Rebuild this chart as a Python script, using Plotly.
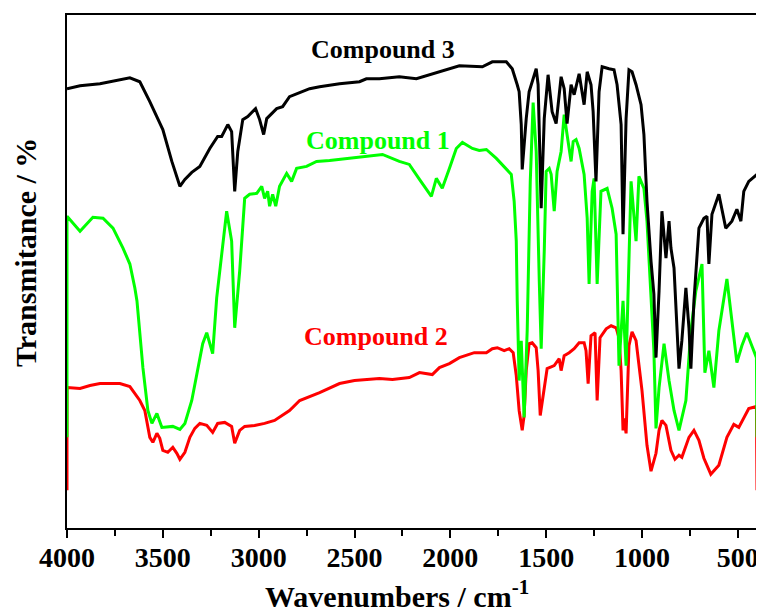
import plotly.graph_objects as go

# ---- Data ----
# Compound 3 (black)
wn_c3 = [4000, 3932, 3828, 3672, 3620, 3568, 3500, 3453, 3411, 3385,
         3349, 3307, 3255, 3214, 3193, 3161, 3141, 3125, 3109, 3083,
         3057, 3016, 2995, 2974, 2958, 2906, 2875, 2839, 2786, 2734,
         2682, 2615, 2578, 2474, 2438, 2370, 2266, 2177, 2094, 1953,
         1833, 1781, 1708, 1677, 1651, 1641, 1630, 1625, 1604, 1589,
         1552, 1542, 1526, 1510, 1490, 1469, 1448, 1422, 1406, 1391,
         1370, 1354, 1328, 1302, 1286, 1266, 1255, 1240, 1224, 1208,
         1172, 1146, 1130, 1109, 1099, 1083, 1068, 1052, 1031, 1005,
         990, 974, 953, 938, 927, 911, 896, 875, 859, 849,
         833, 807, 792, 771, 755, 745, 729, 719, 703, 677,
         661, 651, 635, 599, 563, 531, 505, 484, 469, 443,
         400]
t_c3 = [88.2, 88.8, 89.2, 90.4, 89.6, 85.6, 80.0, 73.6, 68.6, 70.0,
        71.4, 72.6, 76.2, 78.6, 78.6, 81.0, 79.6, 67.6, 75.6, 82.0,
        82.6, 84.2, 82.0, 79.0, 82.2, 84.2, 84.6, 86.6, 87.4, 88.2,
        88.6, 89.0, 89.2, 89.6, 90.2, 90.2, 90.6, 90.2, 91.2, 92.8,
        92.6, 93.6, 93.6, 92.2, 89.0, 87.6, 81.0, 72.0, 82.2, 87.6,
        92.2, 89.0, 64.2, 82.2, 91.0, 83.6, 81.2, 90.6, 88.2, 81.2,
        89.0, 87.0, 91.2, 85.0, 91.6, 89.0, 83.6, 69.6, 87.6, 92.6,
        92.2, 92.0, 89.0, 81.0, 59.0, 82.2, 92.0, 91.6, 89.0, 85.0,
        79.0, 65.6, 53.6, 47.0, 34.2, 47.6, 63.6, 54.2, 61.6, 56.2,
        52.2, 32.0, 37.6, 48.2, 40.2, 32.0, 45.6, 52.2, 60.2, 62.2,
        62.6, 53.0, 63.0, 67.0, 60.2, 61.6, 64.0, 61.6, 67.6, 69.6,
        71.0]

# Compound 1 (green)
wn_c1 = [4000, 4000, 3932, 3865, 3812, 3760, 3708, 3672, 3646, 3635,
         3604, 3578, 3557, 3531, 3505, 3448, 3411, 3385, 3349, 3318,
         3292, 3271, 3240, 3219, 3167, 3141, 3125, 3099, 3073, 3047,
         3010, 2984, 2969, 2953, 2943, 2927, 2911, 2891, 2854, 2828,
         2802, 2750, 2698, 2630, 2578, 2438, 2354, 2266, 2214, 2161,
         2099, 2073, 2042, 2005, 1969, 1937, 1885, 1849, 1812, 1760,
         1708, 1682, 1667, 1656, 1651, 1641, 1630, 1615, 1599, 1583,
         1568, 1552, 1536, 1526, 1510, 1500, 1484, 1474, 1458, 1443,
         1422, 1406, 1391, 1370, 1359, 1344, 1328, 1302, 1286, 1276,
         1260, 1250, 1234, 1214, 1182, 1156, 1135, 1120, 1099, 1083,
         1057, 1031, 1016, 990, 974, 953, 938, 927, 911, 885,
         859, 833, 807, 771, 745, 719, 687, 672, 651, 625,
         599, 557, 531, 505, 479, 453, 427, 403, 400]
t_c1 = [18.2, 62.6, 59.6, 62.4, 62.2, 60.2, 56.2, 53.0, 48.2, 45.6,
        32.2, 23.6, 21.0, 23.0, 20.2, 20.4, 19.8, 21.0, 25.6, 32.2,
        37.0, 39.2, 35.0, 46.2, 63.6, 57.6, 40.2, 51.6, 66.2, 67.0,
        67.2, 68.6, 66.2, 67.6, 64.6, 67.0, 64.6, 68.6, 71.2, 69.6,
        72.2, 72.6, 73.6, 73.8, 74.0, 74.6, 75.0, 73.6, 73.0, 70.0,
        66.6, 70.2, 68.2, 72.2, 76.2, 77.4, 76.2, 75.8, 76.0, 74.2,
        72.2, 71.0, 65.6, 57.6, 45.6, 29.6, 37.6, 22.2, 39.6, 69.6,
        85.4, 75.6, 49.6, 36.0, 55.6, 71.6, 72.2, 71.0, 63.6, 71.6,
        75.6, 83.0, 79.0, 73.6, 77.6, 78.0, 76.2, 71.0, 62.2, 49.0,
        67.6, 70.2, 49.0, 67.6, 68.2, 64.2, 59.0, 32.6, 45.6, 32.6,
        69.6, 57.6, 70.6, 68.2, 61.6, 45.6, 35.6, 20.0, 28.2, 37.0,
        29.6, 23.6, 19.6, 25.6, 39.6, 47.6, 53.0, 31.2, 35.6, 28.2,
        39.6, 50.0, 41.6, 33.2, 36.6, 39.2, 36.6, 34.2, 18.2]

# Compound 2 (red)
wn_c2 = [4000, 4000, 3932, 3880, 3828, 3724, 3672, 3646, 3620, 3594,
         3578, 3568, 3552, 3531, 3516, 3500, 3474, 3448, 3427, 3411,
         3385, 3359, 3333, 3307, 3271, 3240, 3214, 3177, 3141, 3125,
         3099, 3073, 3021, 2969, 2917, 2839, 2786, 2682, 2578, 2500,
         2370, 2302, 2214, 2161, 2094, 2057, 2005, 1953, 1875, 1812,
         1781, 1755, 1719, 1693, 1672, 1656, 1641, 1625, 1615, 1604,
         1589, 1573, 1552, 1542, 1531, 1510, 1495, 1458, 1432, 1422,
         1406, 1380, 1354, 1328, 1302, 1292, 1281, 1266, 1245, 1234,
         1219, 1187, 1161, 1135, 1120, 1109, 1099, 1094, 1083, 1068,
         1052, 1031, 1000, 974, 953, 927, 911, 896, 875, 849,
         828, 807, 792, 755, 729, 703, 677, 641, 599, 557,
         521, 495, 469, 443, 403, 400]
t_c2 = [7.6, 28.2, 28.0, 28.6, 29.0, 29.0, 28.4, 27.0, 25.6, 23.6,
        20.0, 18.2, 17.2, 19.0, 18.0, 15.6, 15.2, 16.2, 15.0, 13.8,
        15.2, 18.2, 20.0, 21.0, 20.6, 19.2, 21.0, 21.2, 20.4, 17.0,
        19.6, 20.4, 20.6, 21.0, 21.6, 23.6, 25.6, 27.2, 29.0, 29.6,
        30.0, 29.8, 30.2, 31.2, 30.8, 32.2, 33.0, 34.2, 35.2, 35.2,
        36.0, 36.2, 35.6, 36.0, 35.2, 30.6, 23.6, 19.6, 22.6, 31.6,
        37.0, 37.2, 36.2, 31.6, 22.6, 27.6, 32.0, 32.6, 34.0, 31.6,
        34.6, 35.2, 36.0, 37.2, 37.2, 35.6, 29.0, 38.6, 39.2, 25.6,
        38.2, 40.0, 40.6, 40.2, 38.2, 31.6, 19.6, 22.0, 19.0, 36.6,
        39.4, 37.6, 27.6, 16.6, 11.4, 15.0, 19.6, 21.6, 20.6, 15.6,
        13.8, 14.6, 14.2, 18.2, 19.6, 17.6, 14.0, 10.8, 12.6, 18.2,
        20.8, 20.2, 22.2, 24.0, 24.4, 7.6]

x_ticks = [4000, 3500, 3000, 2500, 2000, 1500, 1000, 500]
x_tick_text = ["4000", "3500", "3000", "2500", "2000", "1500", "1000", "500"]

series = [
    ("Compound 2", wn_c2, t_c2, "#ff0000"),
    ("Compound 1", wn_c1, t_c1, "#00ff00"),
    ("Compound 3", wn_c3, t_c3, "#000000"),
]

FONT = "Liberation Serif, Times New Roman, serif"

fig = go.Figure()
for name, x, y, col in series:
    fig.add_trace(go.Scatter(x=x, y=y, mode="lines", name=name,
                             line=dict(color=col, width=3), showlegend=False))

# the page body has an 8px margin, so the figure is sized to fit the window
fig.update_layout(
    width=756, height=605,
    margin=dict(l=59, r=6, t=5, b=85),
    paper_bgcolor="white", plot_bgcolor="white",
    showlegend=False,
)
fig.update_xaxes(
    range=[4000, 400], showgrid=False, zeroline=False,
    showline=True, linecolor="black", linewidth=2, mirror=True,
    ticks="outside", ticklen=8, tickwidth=2, tickcolor="black",
    tickvals=x_ticks, ticktext=x_tick_text, ticklabelstandoff=-5,
    tickfont=dict(family=FONT, size=28, color="black", weight="bold"),
    minor=dict(ticks="outside", ticklen=6, tickwidth=2, tickcolor="black",
               dtick=250, tick0=0, showgrid=False),
)
fig.update_yaxes(
    range=[0, 103], showgrid=False, zeroline=False,
    showline=True, linecolor="black", linewidth=2, mirror=True,
    ticks="", showticklabels=False, layer="below traces",
)

labels = [
    ("Compound 3", "#000000", 0.458, 0.932),
    ("Compound 1", "#00ff00", 0.450, 0.755),
    ("Compound 2", "#ff0000", 0.4475, 0.373),
]
for txt, col, xp, yp in labels:
    fig.add_annotation(text="<b>%s</b>" % txt, xref="paper", yref="paper",
                       x=xp, y=yp, showarrow=False, xanchor="center", yanchor="middle",
                       font=dict(family=FONT, size=26, color=col))

fig.add_annotation(text="<b>Wavenumbers / cm<sup>-1</sup></b>", xref="paper", yref="paper",
                   x=0.4776, y=-0.129, showarrow=False, xanchor="center", yanchor="middle",
                   font=dict(family=FONT, size=30, color="black"))
fig.add_annotation(text="<b>Transmitance / %</b>", xref="paper", yref="paper",
                   x=-0.0608, y=0.536, showarrow=False, textangle=-90,
                   xanchor="center", yanchor="middle",
                   font=dict(family=FONT, size=30, color="black"))

fig.write_html("out.html")
